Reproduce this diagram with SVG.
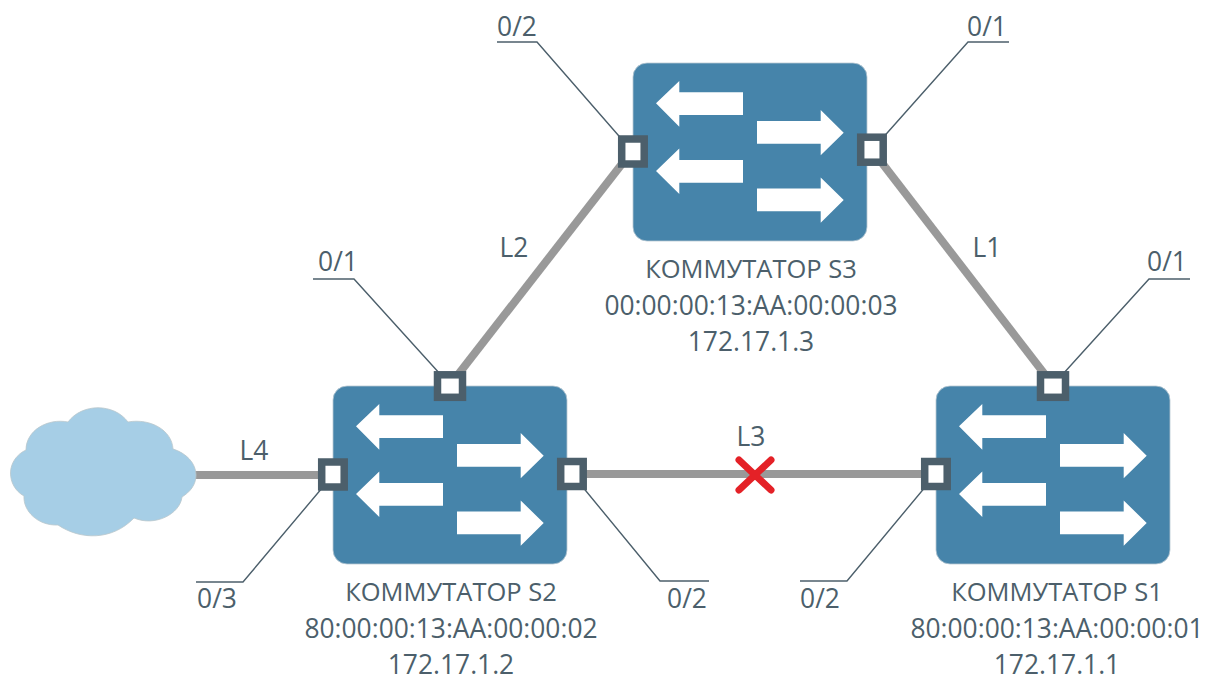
<svg xmlns="http://www.w3.org/2000/svg" xmlns:xlink="http://www.w3.org/1999/xlink" width="1206" height="677" viewBox="0 0 1206 677">
<style>
text{font-family:"Open Sans","Noto Sans",sans-serif;font-size:26.4px;fill:#4c5f6b;text-anchor:middle}
text.ttl{font-size:25.5px}
.lnk{stroke:#999;stroke-width:8;fill:none}
.lead{stroke:#4c5f6b;stroke-width:1.4;fill:none}
.port{fill:#fff;stroke:#4c5f6b;stroke-width:7.500}
.body{fill:#4684aa;stroke:#b8c8d2;stroke-width:.8}
.ar{fill:#fff}
</style>
<defs>
<g id="sw">
<rect class="body" x="0" y="0" width="234" height="178" rx="14"/>
<path class="ar" d="M23 40.300 46.300 18V29.300H110V52H46.300V63.700Z"/>
<path class="ar" d="M23 108 46.300 85.500V97H110V119.700H46.300V131Z"/>
<path class="ar" d="M210.700 69.700 187.700 47V58H124V80.700H187.700V92.300Z"/>
<path class="ar" d="M210.700 137 187.700 114.500V125.500H124V148.200H187.700V159.700Z"/>
</g>
</defs>
<g id="connectors">
<path class="lnk" d="M450 385 632 151"/>
<path class="lnk" d="M872 150 1053 385"/>
<path class="lnk" d="M572 474H936"/>
<path class="lnk" d="M190 475H333"/>
<path class="lead" d="M497 42H537L632 151"/>
<path class="lead" d="M1009 42H968L872 150"/>
<path class="lead" d="M313 279H354L450 385"/>
<path class="lead" d="M1190 279H1149L1053 385"/>
<path class="lead" d="M196 582H243L333 475"/>
<path class="lead" d="M709 581H660L572 474"/>
<path class="lead" d="M800 581H847L936 474"/>
</g>
<g id="cloud">
<path d="M26 450C26 430 48 418 68 422C82 403 114 403 128 422C150 418 172 430 173 449C186 453 196 463 196 475C196 485 190 492 182 497C180 514 155 527 134 518C112 541 80 540 58 525C38 526 23 511 24 496C15 491 10.500 482 10.500 473C10.500 463 17 454 26 450Z" fill="#a6cee6" stroke="#b9c6cc" stroke-width=".8"/>
</g>
<g id="switch-s3">
<use xlink:href="#sw" href="#sw" x="633" y="63"/>
<text class="ttl" x="751" y="278">КОММУТАТОР S3</text>
<text x="751" y="315">00:00:00:13:AA:00:00:03</text>
<text x="751" y="351">172.17.1.3</text>
</g>
<g id="switch-s2">
<use xlink:href="#sw" href="#sw" x="333" y="386"/>
<text class="ttl" x="451" y="601">КОММУТАТОР S2</text>
<text x="451" y="638">80:00:00:13:AA:00:00:02</text>
<text x="451" y="674">172.17.1.2</text>
</g>
<g id="switch-s1">
<use xlink:href="#sw" href="#sw" x="936" y="386"/>
<text class="ttl" x="1057" y="601">КОММУТАТОР S1</text>
<text x="1057" y="638">80:00:00:13:AA:00:00:01</text>
<text x="1057" y="674">172.17.1.1</text>
</g>
<g id="ports">
<rect class="port" x="621.700" y="139" width="22.500" height="25"/>
<rect class="port" x="860.700" y="137.200" width="22.500" height="25"/>
<rect class="port" x="437.500" y="374.800" width="25" height="22.500"/>
<rect class="port" x="1040.500" y="374.800" width="25" height="22.500"/>
<rect class="port" x="321.700" y="462" width="22.500" height="25"/>
<rect class="port" x="560.700" y="461.500" width="22.500" height="25"/>
<rect class="port" x="924.700" y="461.500" width="22.500" height="25"/>
</g>
<g id="fault">
<path d="M739 460 771 490M771 460 739 490" stroke="#e42127" stroke-width="7" stroke-linecap="round" fill="none"/>
</g>
<g id="labels">
<text x="517" y="36">0/2</text>
<text x="987" y="36">0/1</text>
<text x="338" y="271">0/1</text>
<text x="1167" y="271">0/1</text>
<text x="217" y="608">0/3</text>
<text x="687" y="608">0/2</text>
<text x="820" y="608">0/2</text>
<text x="514" y="257">L2</text>
<text x="987" y="257">L1</text>
<text x="254" y="460">L4</text>
<text x="751" y="446">L3</text>
</g>
</svg>
